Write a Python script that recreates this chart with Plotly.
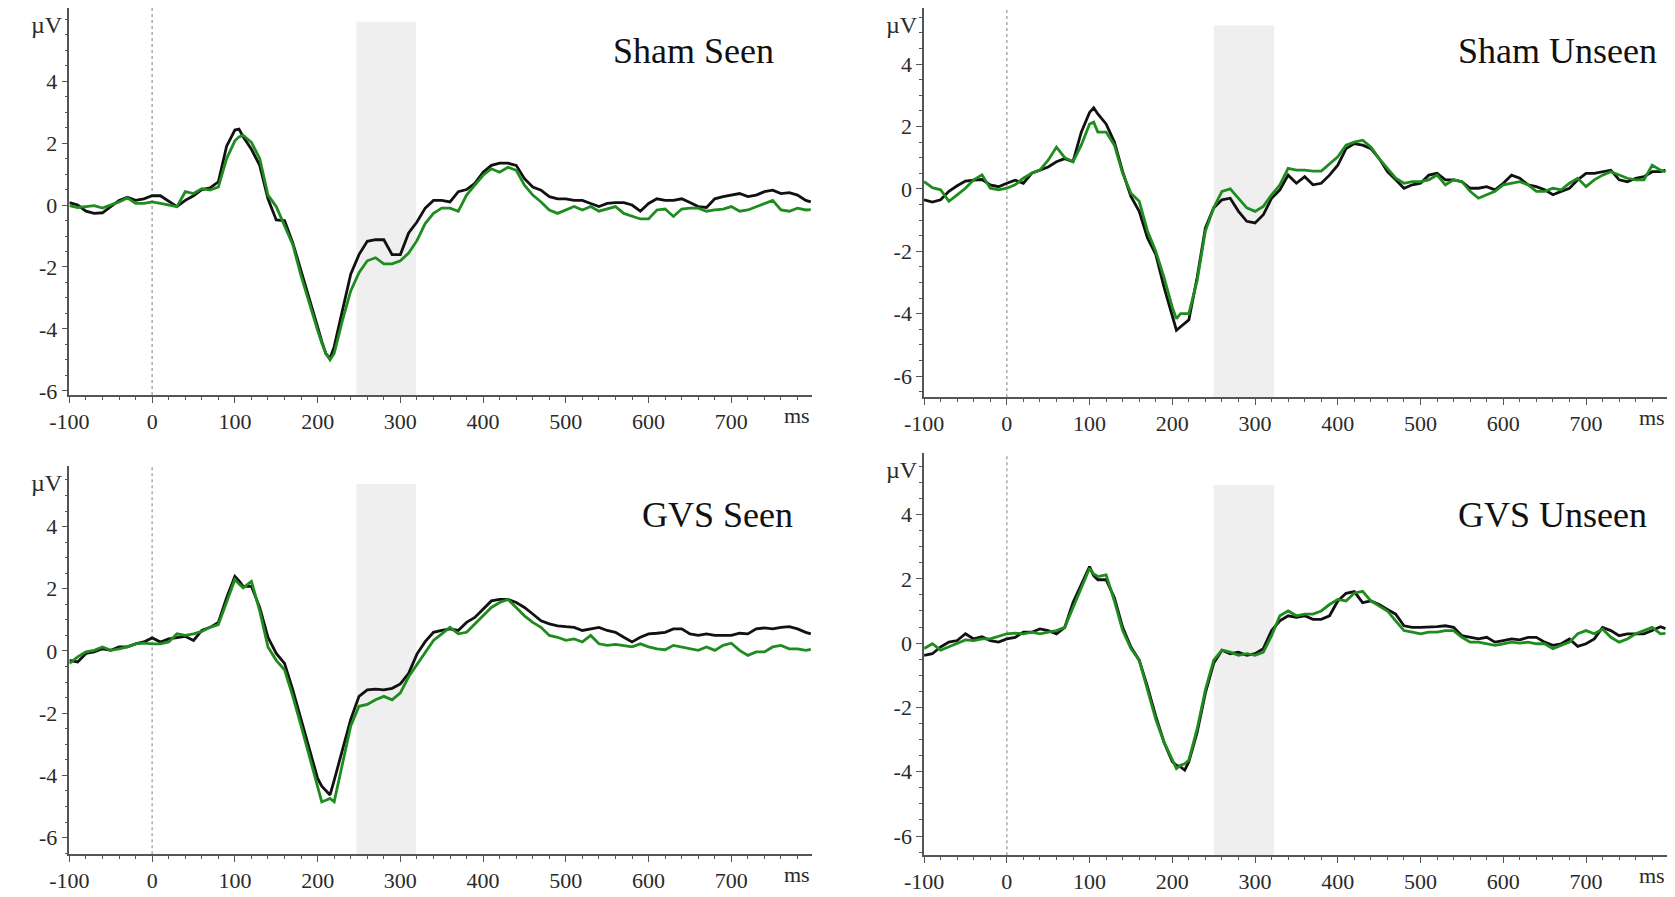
import plotly.graph_objects as go

# ---------------- data ----------------
# time grid (ms)
T = (list(range(-100, 101, 10)) + [105] + list(range(110, 201, 10)) + [205, 210, 215]
     + list(range(220, 791, 10)) + [796])

panel_titles = ["Sham Seen", "Sham Unseen", "GVS Seen", "GVS Unseen"]
x_ticks = [-100, 0, 100, 200, 300, 400, 500, 600, 700]
x_tick_text = ["-100", "0", "100", "200", "300", "400", "500", "600", "700"]
y_ticks = [-6, -4, -2, 0, 2, 4]
y_tick_text = ["-6", "-4", "-2", "0", "2", "4"]

sham_seen_black = [
    0.08, 0, -0.2, -0.27, -0.25, -0.05, 0.15, 0.25, 0.15, 0.2, 0.3, 0.3, 0.13, -0.05, 0.15, 0.3, 0.5, 0.55, 0.75, 1.9, 2.42,
    2.45,
    2.2, 1.8, 1.28, 0.2, -0.48, -0.5, -1.22, -2.1, -3.0, -3.93,
    -4.4, -4.8, -4.95,
    -4.57, -3.4, -2.23, -1.6, -1.17, -1.12, -1.12, -1.6, -1.6, -0.9,
    -0.55, -0.1, 0.15, 0.15, 0.1, 0.43, 0.5, 0.7, 1.06, 1.28,
    1.35, 1.35, 1.28, 0.85, 0.58, 0.48, 0.27, 0.2, 0.2, 0.15,
    0.15, 0.05, -0.05, 0.05, 0.08, 0.08, 0, -0.2, 0.05, 0.2,
    0.15, 0.15, 0.2, 0.08, -0.05, -0.08, 0.2, 0.27, 0.32, 0.37,
    0.27, 0.32, 0.43, 0.48, 0.37, 0.4, 0.32, 0.15,
    0.1]
sham_seen_green = [
    -0.02, -0.08, -0.05, -0.02, -0.1, 0, 0.1, 0.23, 0.05, 0.05, 0.1, 0.05, 0, -0.05, 0.43, 0.37, 0.53, 0.48, 0.58, 1.5, 2.07,
    2.2,
    2.25, 2.02, 1.5, 0.32, -0.05, -0.64, -1.28, -2.29, -3.2, -4.04,
    -4.45, -4.79, -5.0,
    -4.79, -3.72, -2.77, -2.18, -1.8, -1.7, -1.9, -1.9, -1.8, -1.55,
    -1.15, -0.6, -0.27, -0.1, -0.1, -0.2, 0.32, 0.64, 0.96, 1.17,
    1.06, 1.22, 1.12, 0.64, 0.32, 0.1, -0.16, -0.27, -0.16, -0.05,
    -0.16, -0.05, -0.2, -0.13, -0.05, -0.27, -0.37, -0.45, -0.45, -0.16,
    -0.13, -0.37, -0.13, -0.1, -0.1, -0.2, -0.16, -0.13, -0.05, -0.2,
    -0.16, -0.05, 0.05, 0.15, -0.16, -0.2, -0.1, -0.16,
    -0.15]
sham_unseen_black = [
    -0.35, -0.42, -0.35, -0.08, 0.1, 0.25, 0.28, 0.3, 0.13, 0.07, 0.18, 0.28, 0.18, 0.5, 0.6, 0.7, 0.87, 0.97, 0.87, 1.82, 2.45,
    2.6,
    2.4, 2.08, 1.5, 0.55, -0.24, -0.72, -1.57, -2.1, -3.15, -4.1,
    -4.53, -4.42, -4.3,
    -4.2, -2.84, -1.25, -0.61, -0.35, -0.3, -0.72, -1.04, -1.09, -0.83,
    -0.3, -0.03, 0.44, 0.18, 0.39, 0.13, 0.18, 0.44, 0.76, 1.29,
    1.45, 1.4, 1.29, 0.97, 0.55, 0.29, 0.02, 0.13, 0.18, 0.44,
    0.5, 0.29, 0.29, 0.23, 0.02, 0.02, 0.07, -0.03, 0.18, 0.44,
    0.34, 0.13, 0.07, -0.03, -0.19, -0.08, 0.02, 0.29, 0.5, 0.5,
    0.55, 0.6, 0.29, 0.23, 0.34, 0.39, 0.55, 0.55,
    0.6]
sham_unseen_green = [
    0.23, 0.04, -0.03, -0.4, -0.19, 0.02, 0.29, 0.45, 0.02, -0.03, 0.02, 0.13, 0.34, 0.5, 0.6, 0.92, 1.34, 1.0, 0.87, 1.4, 2.08,
    2.14,
    1.82, 1.82, 1.4, 0.5, -0.14, -0.4, -1.35, -2.0, -2.84, -3.8,
    -4.16, -4.0, -4.0,
    -4.0, -2.94, -1.35, -0.61, -0.08, 0.0, -0.3, -0.61, -0.72, -0.56,
    -0.19, 0.13, 0.66, 0.6, 0.6, 0.57, 0.57, 0.81, 1.03, 1.4,
    1.5, 1.56, 1.34, 0.97, 0.66, 0.34, 0.18, 0.23, 0.23, 0.29,
    0.44, 0.13, 0.29, 0.23, -0.08, -0.3, -0.19, -0.08, 0.13, 0.18,
    0.23, 0.13, -0.08, -0.08, 0.02, -0.03, 0.18, 0.34, 0.07, 0.29,
    0.44, 0.55, 0.44, 0.34, 0.29, 0.29, 0.76, 0.6,
    0.55]
gvs_seen_black = [
    -0.3, -0.35, -0.08, -0.03, 0.07, 0.02, 0.13, 0.13, 0.23, 0.29, 0.42, 0.29, 0.39, 0.44, 0.47, 0.34, 0.66, 0.76, 0.92, 1.71, 2.4,
    2.25,
    2.08, 2.08, 1.4, 0.44, -0.08, -0.4, -1.25, -2.2, -3.15, -4.1,
    -4.35, -4.48, -4.63,
    -4.16, -3.15, -2.2, -1.46, -1.25, -1.23, -1.25, -1.2, -1.06, -0.72,
    -0.1, 0.3, 0.6, 0.66, 0.71, 0.66, 0.92, 1.08, 1.34, 1.61,
    1.66, 1.66, 1.56, 1.4, 1.19, 0.97, 0.87, 0.81, 0.78, 0.76,
    0.66, 0.71, 0.76, 0.66, 0.6, 0.44, 0.29, 0.44, 0.55, 0.57,
    0.6, 0.71, 0.71, 0.55, 0.5, 0.55, 0.5, 0.5, 0.5, 0.57,
    0.55, 0.71, 0.74, 0.71, 0.76, 0.78, 0.71, 0.6,
    0.55]
gvs_seen_green = [
    -0.4, -0.19, -0.03, 0.02, 0.13, 0.02, 0.07, 0.13, 0.23, 0.25, 0.23, 0.23, 0.29, 0.55, 0.5, 0.55, 0.63, 0.76, 0.85, 1.61, 2.3,
    2.15,
    2.03, 2.24, 1.29, 0.13, -0.3, -0.61, -1.46, -2.41, -3.37, -4.32,
    -4.85, -4.8, -4.74,
    -4.85, -3.68, -2.41, -1.78, -1.72, -1.57, -1.46, -1.57, -1.35, -0.83,
    -0.45, -0.05, 0.34, 0.55, 0.76, 0.55, 0.6, 0.87, 1.13, 1.4,
    1.56, 1.66, 1.4, 1.13, 0.92, 0.76, 0.5, 0.44, 0.34, 0.39,
    0.29, 0.5, 0.23, 0.18, 0.21, 0.18, 0.13, 0.23, 0.13, 0.07,
    0.04, 0.18, 0.13, 0.07, 0.02, 0.13, 0.02, 0.18, 0.25, 0.02,
    -0.14, -0.03, -0.03, 0.13, 0.18, 0.07, 0.07, 0.02,
    0.05]
gvs_unseen_black = [
    -0.38, -0.33, -0.12, 0.03, 0.08, 0.29, 0.13, 0.2, 0.08, 0.03, 0.13, 0.18, 0.34, 0.34, 0.44, 0.39, 0.29, 0.49, 1.26, 1.82, 2.38,
    2.1,
    1.97, 1.97, 1.41, 0.49, -0.12, -0.53, -1.35, -2.27, -3.08, -3.69,
    -3.8, -3.85, -3.95,
    -3.69, -2.78, -1.55, -0.63, -0.22, -0.33, -0.28, -0.38, -0.33, -0.17,
    0.39, 0.69, 0.85, 0.8, 0.85, 0.74, 0.74, 0.85, 1.31, 1.55,
    1.6, 1.26, 1.31, 1.2, 1.05, 0.9, 0.54, 0.49, 0.49, 0.49,
    0.51, 0.54, 0.49, 0.23, 0.18, 0.13, 0.18, 0.03, 0.08, 0.13,
    0.1, 0.18, 0.18, 0.03, -0.07, -0.02, 0.13, -0.1, -0.02, 0.13,
    0.49, 0.39, 0.23, 0.29, 0.29, 0.29, 0.39, 0.51,
    0.45]
gvs_unseen_green = [
    -0.17, -0.02, -0.22, -0.12, -0.02, 0.1, 0.08, 0.13, 0.13, 0.2, 0.29, 0.31, 0.29, 0.34, 0.29, 0.34, 0.39, 0.49, 1.1, 1.71, 2.33,
    2.15,
    2.07, 2.12, 1.31, 0.39, -0.17, -0.53, -1.45, -2.37, -3.08, -3.64,
    -3.9, -3.8, -3.75,
    -3.64, -2.67, -1.45, -0.53, -0.22, -0.28, -0.38, -0.33, -0.38, -0.28,
    0.23, 0.85, 1.0, 0.85, 0.9, 0.9, 1.0, 1.2, 1.36, 1.31,
    1.56, 1.61, 1.31, 1.15, 1.0, 0.69, 0.39, 0.34, 0.29, 0.34,
    0.34, 0.39, 0.39, 0.18, 0.03, 0.03, -0.02, -0.07, -0.02, 0.03,
    0, 0.03, -0.02, -0.02, -0.17, -0.07, 0.03, 0.29, 0.39, 0.29,
    0.44, 0.18, 0.03, 0.13, 0.29, 0.39, 0.49, 0.29,
    0.3]

black_series = [sham_seen_black, sham_unseen_black, gvs_seen_black, gvs_unseen_black]
green_series = [sham_seen_green, sham_unseen_green, gvs_seen_green, gvs_unseen_green]
for s in black_series + green_series:
    assert len(s) == len(T), (len(s), len(T))

# analysis window (ms) per panel
shade_windows = [(247, 319), (250, 323), (247, 319), (250, 323)]

# ---------------- layout geometry ----------------
W, H = 1675, 897
# pixel boxes: (left, right, top, bottom)
boxes = [(50, 802, 8, 399), (915, 1667, 8, 401), (50, 802, 471, 863), (915, 1667, 458, 864)]
y_ranges = [(-6.13, 6.36), (-6.67, 5.8), (-6.54, 5.94), (-6.6, 5.9)]
shade_tops = [5.91, 5.24, 5.37, 4.92]
title_px = [(598, 52), (1453, 52), (627, 520), (1453, 520)]
X_RANGE = (-100, 798)

SERIF = "Liberation Serif"
AX_COLOR = "#555555"
TXT_COLOR = "#2a2a2a"
GREEN = "#1e8c1e"
BLACK = "#111111"

fig = go.Figure()
layout = dict(
    width=W, height=H, margin=dict(l=0, r=0, t=0, b=0),
    paper_bgcolor="white", plot_bgcolor="white", showlegend=False,
    shapes=[], annotations=[],
)

for i in range(4):
    n = "" if i == 0 else str(i + 1)
    xa, ya = "x" + n, "y" + n
    L, R, Tp, B = boxes[i]
    xdom = [L / W, R / W]
    ydom = [1 - B / H, 1 - Tp / H]
    layout["xaxis" + n] = dict(
        domain=xdom, anchor=ya, range=list(X_RANGE),
        tickvals=x_ticks, ticktext=x_tick_text,
        ticks="outside", ticklen=6, tickwidth=1.3, tickcolor=AX_COLOR,
        minor=dict(dtick=20, tick0=0, ticks="outside", ticklen=3, tickwidth=1, tickcolor=AX_COLOR),
        showline=True, linecolor=AX_COLOR, linewidth=1.5,
        showgrid=False, zeroline=False,
        tickfont=dict(family=SERIF, size=22, color=TXT_COLOR),
    )
    layout["yaxis" + n] = dict(
        domain=ydom, anchor=xa, range=list(y_ranges[i]),
        tickvals=y_ticks, ticktext=y_tick_text,
        ticks="outside", ticklen=6, tickwidth=1.3, tickcolor=AX_COLOR,
        minor=dict(dtick=0.5, tick0=0, ticks="outside", ticklen=3, tickwidth=1, tickcolor=AX_COLOR),
        showline=True, linecolor=AX_COLOR, linewidth=1.5,
        showgrid=False, zeroline=False,
        tickfont=dict(family=SERIF, size=22, color=TXT_COLOR),
    )
    # shaded analysis window
    layout["shapes"].append(dict(
        type="rect", xref=xa, yref=ya, x0=shade_windows[i][0], x1=shade_windows[i][1],
        y0=y_ranges[i][0], y1=shade_tops[i], fillcolor="#efefef", line=dict(width=0), layer="below"))
    # stimulus onset dotted line
    layout["shapes"].append(dict(
        type="line", xref=xa, yref=ya + " domain", x0=0, x1=0, y0=0, y1=1,
        line=dict(color="#aaaaaa", width=1.5, dash="dot"), layer="below"))
    # unit labels
    layout["annotations"].append(dict(
        text="µV", xref="paper", yref="paper", x=L / W, y=1 - Tp / H,
        xanchor="right", yanchor="top", xshift=-4, yshift=-2, showarrow=False,
        font=dict(family=SERIF, size=24, color=TXT_COLOR)))
    layout["annotations"].append(dict(
        text="ms", xref="paper", yref="paper", x=R / W, y=1 - B / H,
        xanchor="right", yanchor="top", xshift=0, yshift=-6, showarrow=False,
        font=dict(family=SERIF, size=22, color=TXT_COLOR)))
    # panel title
    tx, ty = title_px[i]
    layout["annotations"].append(dict(
        text=panel_titles[i], xref="paper", yref="paper", x=tx / W, y=1 - ty / H,
        xanchor="left", yanchor="middle", showarrow=False,
        font=dict(family=SERIF, size=36, color="#111111")))

    fig.add_trace(go.Scatter(x=T, y=black_series[i], mode="lines", xaxis=xa, yaxis=ya,
                             line=dict(color=BLACK, width=2.8), hoverinfo="skip"))
    fig.add_trace(go.Scatter(x=T, y=green_series[i], mode="lines", xaxis=xa, yaxis=ya,
                             line=dict(color=GREEN, width=2.8), hoverinfo="skip"))

fig.update_layout(**layout)
fig.write_html("out.html")
